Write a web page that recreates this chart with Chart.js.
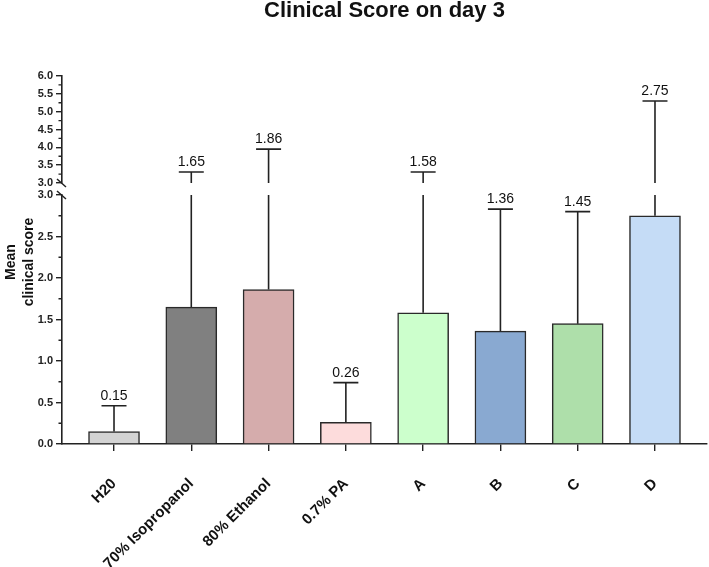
<!DOCTYPE html>
<html>
<head>
<meta charset="utf-8">
<script src="https://cdn.jsdelivr.net/npm/chart.js@4.4.1/dist/chart.umd.min.js"></script>
<style>
  html, body { margin: 0; padding: 0; background: #fff; }
  #wrap { width: 709px; height: 567px; }
</style>
</head>
<body>
<div id="wrap"><canvas id="chart"></canvas></div>
<script>
const groups = ["H20", "70% Isopropanol", "80% Ethanol", "0.7% PA", "A", "B", "C", "D"];
const means = [0.15, 1.65, 1.86, 0.26, 1.58, 1.36, 1.45, 2.75];
const sds = [0.31, 1.66, 2.09, 0.48, 1.73, 1.47, 1.35, 2.55];
const barColors = ["#d3d3d3", "#808080", "#d5acac", "#fddcdc", "#ccffcc", "#89a9d1", "#aedfaa", "#c5dcf6"];
const lowRange = [0, 3];
const highRange = [3, 6];

const FONT = "'Liberation Sans', Arial, sans-serif";
const INK = "#222";

Chart.defaults.font.family = FONT;
Chart.defaults.color = INK;

// error bars, value labels, minor ticks, axis breaks, y title
const extras = {
  id: "extras",
  afterDatasetsDraw(c) {
    const ctx = c.ctx;
    const xs = c.scales.x, lo = c.scales.yLow, hi = c.scales.yHigh;
    ctx.save();
    ctx.strokeStyle = INK;
    ctx.lineWidth = 1.6;
    ctx.fillStyle = "#111";
    ctx.font = "14px " + FONT;
    ctx.textAlign = "center";
    ctx.textBaseline = "alphabetic";
    means.forEach((m, i) => {
      const top = m + sds[i];
      const x = xs.getPixelForValue(i);
      const y0 = lo.getPixelForValue(m);
      let capY;
      ctx.beginPath();
      ctx.moveTo(x, y0);
      if (top <= lowRange[1]) {
        capY = lo.getPixelForValue(top);
        ctx.lineTo(x, capY);
      } else {
        ctx.lineTo(x, lo.getPixelForValue(lowRange[1]));
        capY = hi.getPixelForValue(top);
        ctx.moveTo(x, hi.getPixelForValue(highRange[0]));
        ctx.lineTo(x, capY);
      }
      ctx.moveTo(x - 12.5, capY);
      ctx.lineTo(x + 12.5, capY);
      ctx.stroke();
      ctx.fillText(m.toFixed(2), x, capY - 6);
    });
    ctx.restore();
  },
  afterDraw(c) {
    const ctx = c.ctx;
    const lo = c.scales.yLow, hi = c.scales.yHigh;
    ctx.save();
    ctx.strokeStyle = INK;
    ctx.lineWidth = 1.3;
    // minor ticks
    [lo, hi].forEach(s => {
      ctx.beginPath();
      for (let v = s.min + 0.25; v < s.max; v += 0.5) {
        const y = s.getPixelForValue(v);
        ctx.moveTo(s.right, y);
        ctx.lineTo(s.right - 3.5, y);
      }
      ctx.stroke();
    });
    // break marks
    ctx.lineWidth = 1.5;
    ctx.beginPath();
    [[hi.right, hi.bottom], [lo.right, lo.top]].forEach(([x, y]) => {
      ctx.moveTo(x - 5, y - 4);
      ctx.lineTo(x + 4, y + 4);
    });
    ctx.stroke();
    // axis title
    ctx.fillStyle = "#111";
    ctx.font = "bold 14px " + FONT;
    ctx.textAlign = "center";
    ctx.textBaseline = "alphabetic";
    ctx.translate(0, 262);
    ctx.rotate(-Math.PI / 2);
    ctx.fillText("Mean", 0, 15);
    ctx.fillText("clinical score", 0, 33);
    ctx.restore();
  }
};

const yTicks = {
  stepSize: 0.5,
  autoSkip: false,
  padding: 3,
  color: INK,
  font: { size: 11, weight: "bold" },
  callback: v => v.toFixed(1)
};
const yGrid = { drawOnChartArea: false, tickLength: 6, color: INK, lineWidth: 1.4 };
const yBorder = { color: INK, width: 1.6 };
const fixWidth = s => { s.width = 62; };

new Chart(document.getElementById("chart"), {
  type: "bar",
  data: {
    datasets: [{
      data: means.map((v, i) => ({ x: i, y: v })),
      xAxisID: "x",
      yAxisID: "yLow",
      backgroundColor: barColors,
      borderColor: "#2a2a2a",
      borderWidth: 1.5,
      barThickness: 51
    }]
  },
  options: {
    responsive: true,
    maintainAspectRatio: false,
    animation: false,
    layout: { padding: { left: 0, right: 2, top: 0, bottom: 0 } },
    plugins: {
      legend: { display: false },
      tooltip: { enabled: false },
      title: {
        display: true,
        fullSize: false,
        text: "Clinical Score on day 3",
        color: "#111",
        font: { size: 22, weight: "bold", lineHeight: 1.0 },
        padding: { top: 0, bottom: 54 }
      }
    },
    scales: {
      x: {
        type: "linear",
        offset: false,
        min: -0.673,
        max: 7.673,
        afterBuildTicks: s => { s.ticks = groups.map((_, i) => ({ value: i })); },
        afterFit: s => { s.height = 123; s.paddingRight = 0; s.paddingLeft = 0; },
        ticks: {
          autoSkip: false,
          minRotation: 45,
          maxRotation: 45,
          padding: 24,
          color: "#111",
          font: { size: 15, weight: "bold" },
          callback: v => groups[v]
        },
        grid: { offset: false, drawOnChartArea: false, tickLength: 7, color: INK, lineWidth: 1.4 },
        border: yBorder
      },
      yLow: {
        type: "linear",
        axis: "y",
        position: "left",
        stack: "y",
        stackWeight: 249,
        weight: 1,
        min: lowRange[0],
        max: lowRange[1],
        afterFit: fixWidth,
        ticks: yTicks,
        grid: yGrid,
        border: yBorder
      },
      yGap: {
        type: "linear",
        axis: "y",
        position: "left",
        stack: "y",
        stackWeight: 12,
        weight: 2,
        min: 0,
        max: 1,
        afterFit: fixWidth,
        ticks: { display: false },
        grid: { display: false },
        border: { display: false }
      },
      yHigh: {
        type: "linear",
        axis: "y",
        position: "left",
        stack: "y",
        stackWeight: 107,
        weight: 3,
        min: highRange[0],
        max: highRange[1],
        afterFit: fixWidth,
        ticks: yTicks,
        grid: yGrid,
        border: yBorder
      }
    }
  },
  plugins: [extras]
});
</script>
</body>
</html>
